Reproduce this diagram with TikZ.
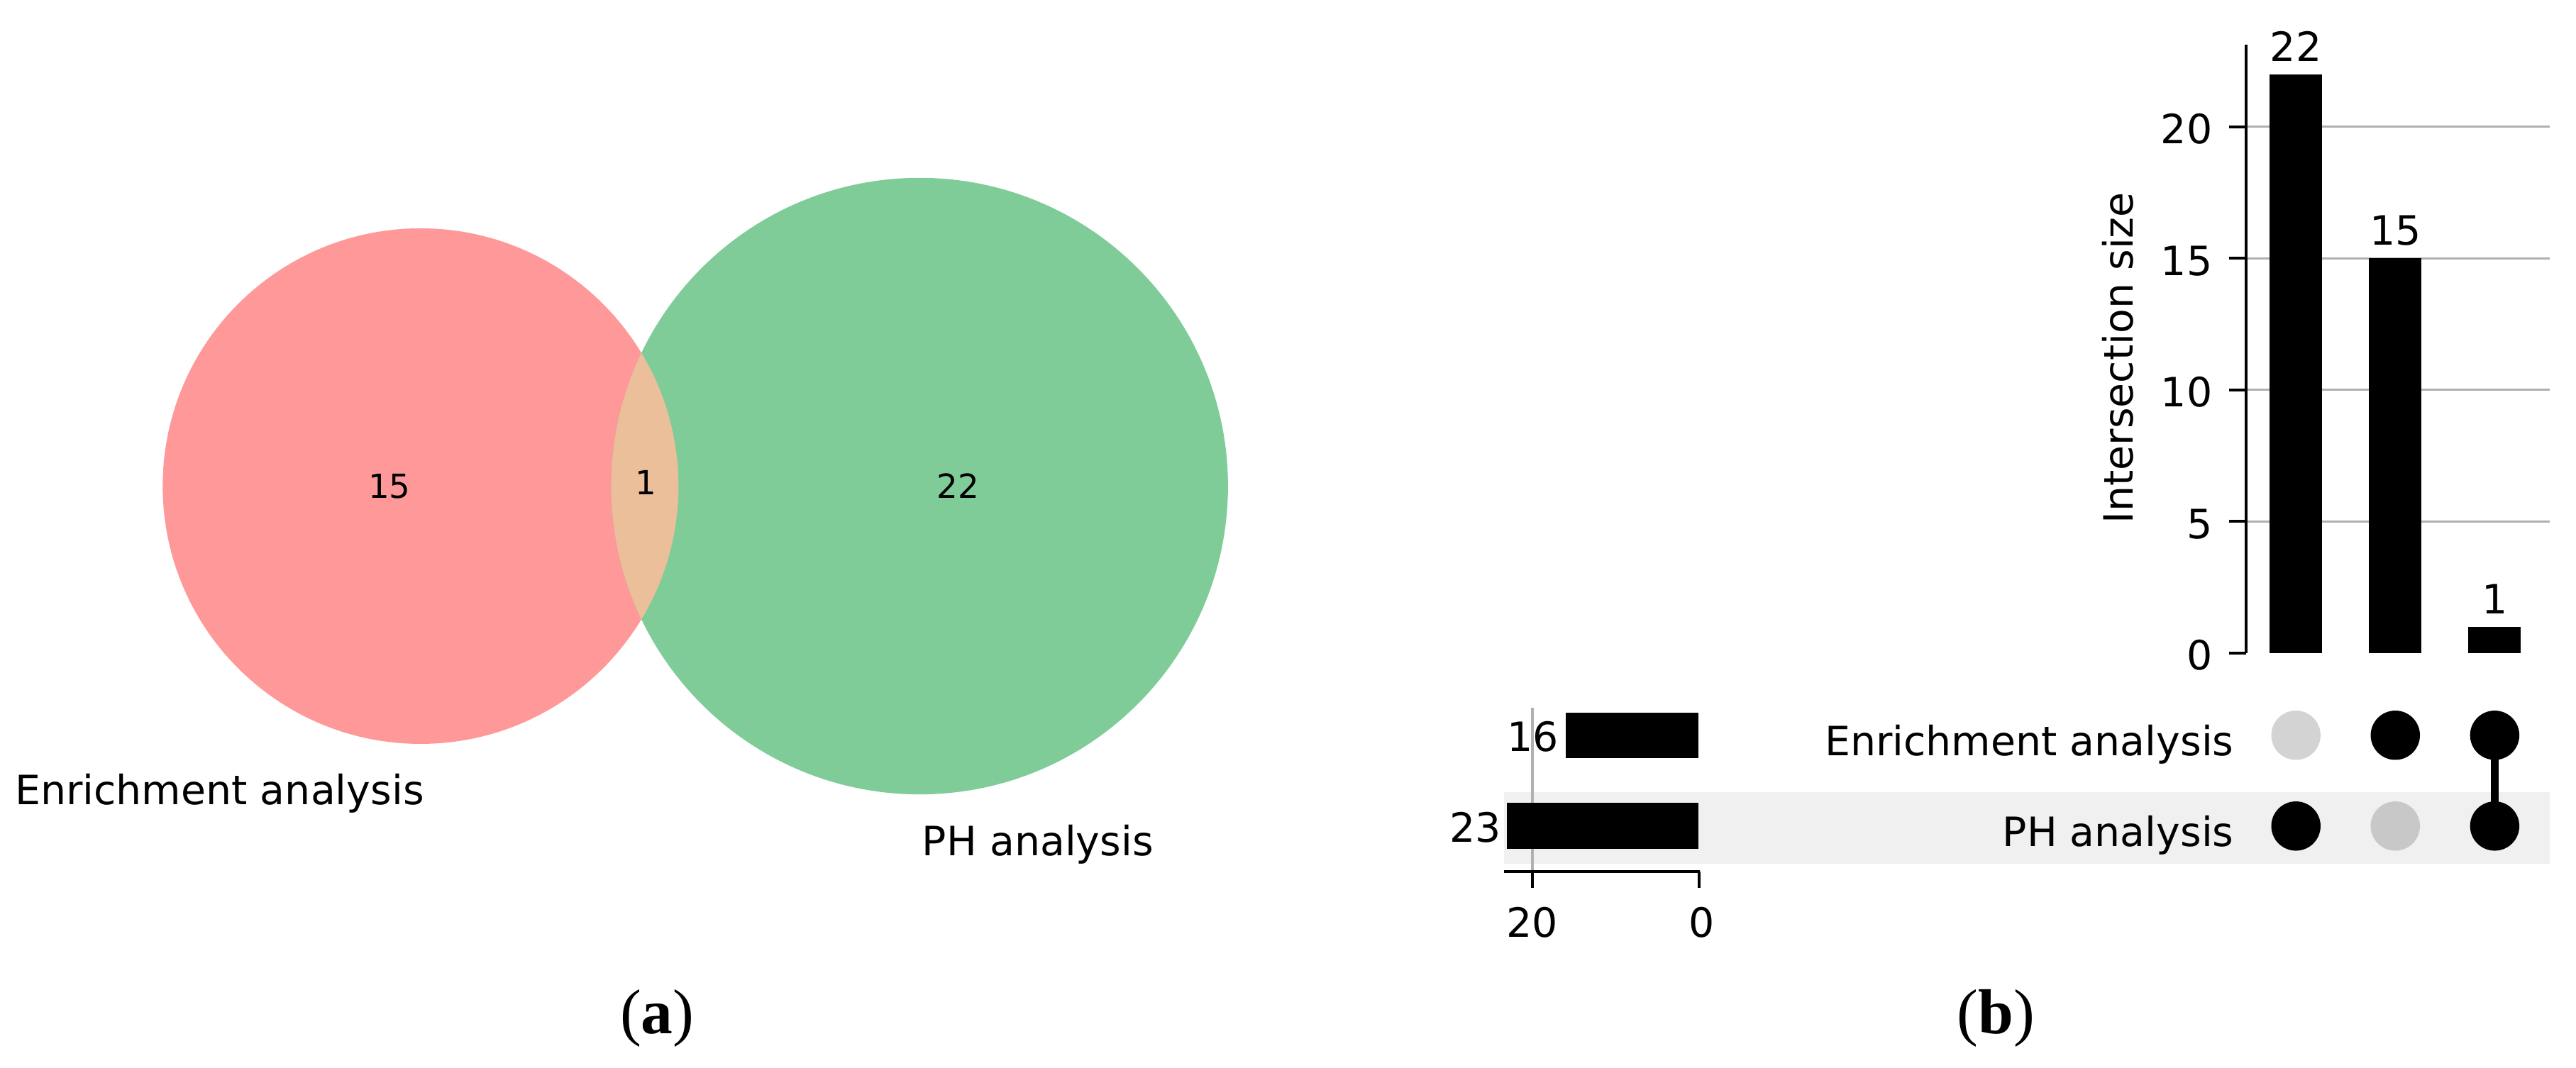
\documentclass[tikz,border=0pt]{standalone}
\usepackage{fontspec}
\setmainfont{DejaVu Sans}
\newfontfamily\capfont{Liberation Serif}
\definecolor{vred}{HTML}{FF9999}
\definecolor{vgreen}{HTML}{80CC99}
\definecolor{vmix}{HTML}{EBBF99}
\definecolor{gridgray}{HTML}{B0B0B0}
\definecolor{bandgray}{HTML}{F0F0F0}
\definecolor{dotgrayA}{HTML}{D3D3D3}
\definecolor{dotgrayB}{HTML}{C8C8C8}
\tikzset{
  lbl/.style={font=\fontsize{14}{16}\selectfont, inner sep=0pt},
  vnum/.style={font=\fontsize{11.5}{13}\selectfont, inner sep=0pt},
  captxt/.style={font=\capfont\fontsize{22}{26}\selectfont, inner sep=0pt, anchor=base},
  axisline/.style={line width=1pt, black},
  gridline/.style={line width=0.8pt, gridgray},
  dotblack/.style={circle, fill=black, minimum size=0.6cm, inner sep=0pt},
  dotA/.style={circle, fill=dotgrayA, minimum size=0.6cm, inner sep=0pt},
  dotB/.style={circle, fill=dotgrayB, minimum size=0.6cm, inner sep=0pt},
  vbar/.style={fill=black},
}
\begin{document}
\begin{tikzpicture}[x=0.02cm, y=-0.02cm]
\useasboundingbox (0,0) rectangle (1568,650);
\fill[white] (0,0) rectangle (1568,650);

% ---------------- Venn diagram ----------------
\fill[vred] (256,296) circle [radius=3.14cm];
\fill[vgreen] (559.75,296) circle [radius=3.755cm];
\begin{scope}
  \clip (256,296) circle [radius=3.14cm];
  \fill[vmix] (559.75,296) circle [radius=3.755cm];
\end{scope}
\node[vnum] (v15) at (237,296) {15};
\node[vnum] (v1) at (393,294) {1};
\node[vnum] (v22) at (583,296) {22};
\node[lbl, anchor=base west] (lenr) at (8.8,490) {Enrichment analysis};
\node[lbl, anchor=base west] (lph) at (561,520.8) {PH analysis};

% ---------------- UpSet plot ----------------
\fill[bandgray] (915.5,482.3) rectangle (1552,526);

\foreach \v in {5,10,15,20} {
  \draw[gridline] (1367,{397.6-16.02*\v}) -- (1552,{397.6-16.02*\v});
}
\fill[vbar] (1381.5,{397.6-16.02*22}) rectangle (1413.5,397.6);
\fill[vbar] (1442,{397.6-16.02*15}) rectangle (1474,397.6);
\fill[vbar] (1502.5,{397.6-16.02*1}) rectangle (1534.5,397.6);
\node[lbl, anchor=base] (b22) at (1397.5,{397.6-16.02*22-8}) {22};
\node[lbl, anchor=base] (b15) at (1458,{397.6-16.02*15-8}) {15};
\node[lbl, anchor=base] (b1) at (1518.5,{397.6-16.02*1-8}) {1};
\draw[axisline] (1367,27.4) -- (1367,397.6);
\foreach \v in {0,5,10,15,20} {
  \draw[axisline] (1357,{397.6-16.02*\v}) -- (1367,{397.6-16.02*\v});
  \node[lbl, anchor=base east] at (1347,{397.6-16.02*\v+10.3}) {\v};
}
\node[lbl, rotate=90] (ylab) at (1289,218) {Intersection size};

\draw[gridline] (932.7,431) -- (932.7,530.8);
\fill[vbar] (953,434) rectangle (1034,461.6);
\fill[vbar] (917,489) rectangle (1034,517);
\node[lbl, anchor=base east] (s16) at (949,457.7) {16};
\node[lbl, anchor=base east] (s23) at (914,513) {23};
\draw[axisline] (915.5,530.8) -- (1034.7,530.8);
\draw[axisline] (932.7,530.8) -- (932.7,540.6);
\draw[axisline] (1034.2,530.8) -- (1034.2,540.6);
\node[lbl, anchor=base] (t20) at (932.7,570.7) {20};
\node[lbl, anchor=base] (t0) at (1035.6,570.7) {0};

\node[lbl, anchor=base east] (rE) at (1360,459.9) {Enrichment analysis};
\node[lbl, anchor=base east] (rP) at (1360,515.2) {PH analysis};

\node[dotA] (e1) at (1397.5,447.7) {};
\node[dotblack] (e2) at (1458,447.7) {};
\node[dotblack] (e3) at (1518.5,447.7) {};
\node[dotblack] (p1) at (1397.5,503) {};
\node[dotB] (p2) at (1458,503) {};
\node[dotblack] (p3) at (1518.5,503) {};
\draw[line width=0.1cm, black] (e3.center) -- (p3.center);

\node[captxt] (ca) at (400,629.6) {(\textbf{a})};
\node[captxt] (cb) at (1215,629.6) {(\textbf{b})};
\end{tikzpicture}
\end{document}
